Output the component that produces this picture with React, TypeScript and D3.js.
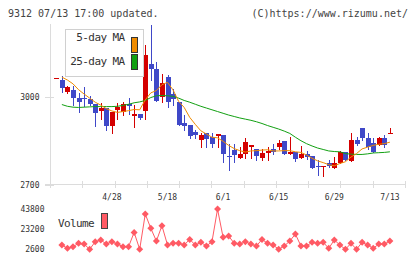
import * as d3 from "d3";

// trading days, 2022
const dates = [
  "4/14", "4/15", "4/18", "4/19", "4/20", "4/21", "4/22", "4/25", "4/26", "4/27",
  "4/28", "5/2", "5/6", "5/9", "5/10", "5/11", "5/12", "5/13", "5/16", "5/17",
  "5/18", "5/19", "5/20", "5/23", "5/24", "5/25", "5/26", "5/27", "5/30", "5/31",
  "6/1", "6/2", "6/3", "6/6", "6/7", "6/8", "6/9", "6/10", "6/13", "6/14",
  "6/15", "6/16", "6/17", "6/20", "6/21", "6/22", "6/23", "6/24", "6/27", "6/28",
  "6/29", "6/30", "7/1", "7/4", "7/5", "7/6", "7/7", "7/8", "7/11", "7/12",
  "7/13",
];

const opens = [
  3066, 3057, 3017, 3023, 2998, 2998, 2992, 2977, 2952, 2962,
  2901, 2954, 2948, 2977, 2935, 2941, 2952, 3112, 3097, 3000,
  3068, 3009, 2983, 2911, 2903, 2879, 2854, 2875, 2863, 2866,
  2869, 2798, 2817, 2791, 2806, 2828, 2820, 2791, 2808, 2823,
  2829, 2848, 2806, 2812, 2791, 2806, 2797, 2762, 2763, 2772,
  2757, 2774, 2812, 2780, 2852, 2892, 2861, 2842, 2837, 2861,
  2875,
];
const highs = [
  3066, 3071, 3039, 3037, 3014, 3034, 3002, 2977, 2979, 2962,
  2949, 2979, 2983, 2998, 2972, 2941, 3177, 3246, 3120, 3080,
  3074, 3026, 2983, 2937, 2903, 2886, 2877, 2877, 2875, 2872,
  2869, 2840, 2840, 2829, 2858, 2835, 2823, 2820, 2829, 2840,
  2852, 2848, 2863, 2812, 2831, 2815, 2797, 2783, 2763, 2783,
  2795, 2815, 2812, 2875, 2863, 2892, 2878, 2858, 2863, 2869,
  2894,
];
const lows = [
  3066, 3017, 3014, 2972, 2949, 2968, 2972, 2901, 2924, 2888,
  2877, 2926, 2937, 2943, 2897, 2924, 2926, 3057, 2986, 2983,
  2966, 2974, 2905, 2886, 2861, 2861, 2829, 2829, 2829, 2829,
  2777, 2751, 2777, 2791, 2791, 2791, 2783, 2783, 2783, 2806,
  2823, 2803, 2804, 2781, 2791, 2788, 2757, 2732, 2729, 2760,
  2757, 2772, 2783, 2780, 2835, 2852, 2823, 2810, 2835, 2829,
  2875,
];
const closes = [
  3066, 3031, 3033, 2997, 2983, 2992, 2977, 2945, 2962, 2901,
  2949, 2964, 2977, 2970, 2941, 2929, 3143, 3096, 2986, 3048,
  2983, 2992, 2905, 2900, 2866, 2869, 2869, 2856, 2838, 2872,
  2806, 2796, 2800, 2804, 2844, 2835, 2798, 2808, 2815, 2812,
  2842, 2806, 2812, 2787, 2806, 2795, 2757, 2761, 2763, 2764,
  2772, 2812, 2783, 2852, 2840, 2861, 2829, 2812, 2861, 2837,
  2875,
];

const ma5 = [
  null, 3068, 3058, 3045, 3025, 3010, 2996, 2982, 2972, 2960,
  2952, 2947, 2950, 2953, 2957, 2956, 2990, 3014, 3022, 3042,
  3050, 3024, 2985, 2964, 2930, 2906, 2884, 2873, 2862, 2860,
  2848, 2834, 2823, 2816, 2811, 2815, 2816, 2818, 2819, 2815,
  2815, 2816, 2816, 2812, 2810, 2801, 2790, 2781, 2775, 2768,
  2764, 2772, 2778, 2794, 2806, 2822, 2828, 2834, 2838, 2840,
  2845,
];
const ma25 = [
  null, 2974, 2968, 2965, 2964, 2965, 2966, 2967, 2967, 2967,
  2967, 2968, 2971, 2975, 2980, 2983, 2988, 2998, 3004, 3005,
  3004, 3002, 2996, 2988, 2982, 2975, 2968, 2962, 2956, 2950,
  2944, 2938, 2933, 2928, 2924, 2920, 2915, 2909, 2902, 2896,
  2890, 2883, 2875, 2862, 2850, 2840, 2832, 2825, 2820, 2815,
  2813, 2812, 2806, 2804, 2803, 2803, 2805, 2808, 2809, 2810,
  2812,
];

// volume shown from 4/15 on
const volumes = [
  6700, 3300, 5000, 8400, 7700, 2300, 10100, 11900, 7700, 10100,
  7700, 5000, 5000, 19700, 2300, 38600, 23900, 10800, 26600, 6700,
  8400, 8400, 6700, 12500, 6700, 9500, 5700, 10100, 43700, 14600,
  16000, 8400, 7700, 10100, 7700, 5700, 12500, 8400, 6700, 2300,
  5700, 10800, 18000, 5700, 5700, 9500, 8400, 9500, 3300, 11900,
  6700, 2300, 8400, 2300, 9500, 6700, 3300, 7700, 7700, 10800,
];

const priceTicks = [2700, 3000];
const volumeTicks = [2600, 23200, 43800];
const dateTicks = ["4/28", "5/18", "6/1", "6/15", "6/29", "7/13"];

const UP = "#d40000";
const DOWN = "#3f48c8";
const MA5_COLOR = "#f08c00";
const MA25_COLOR = "#12a012";
const VOL_COLOR = "#ff5a64";
const GRID = "#dcdcdc";
const FONT = "'DejaVu Sans Mono', monospace";

export default function App() {
  const x = d3.scalePoint<string>().domain(dates).range([56.3, 389.9]);
  const y = d3.scaleLinear().domain([2700, 3250]).range([184.5, 24]);
  const yv = d3.scaleLinear().domain([2600, 43800]).range([249, 209]);
  const grid = d3.scaleLinear().domain([0, 11]).range([50.5, 405.5]);

  const cx = (i: number) => Math.round(x(dates[i]) as number);

  const maLine = d3
    .line<number | null>()
    .defined((d) => d != null)
    .x((_, i) => x(dates[i]) as number)
    .y((d) => y(d as number));

  const volDates = dates.slice(1);
  const volLine = d3
    .line<number>()
    .x((_, i) => x(volDates[i]) as number)
    .y((d) => yv(d));

  const diamond = (px: number, py: number) =>
    `M${px},${py - 3.5}L${px + 3.5},${py}L${px},${py + 3.5}L${px - 3.5},${py}Z`;

  return (
    <svg
      width={420}
      height={259}
      style={{ position: "absolute", left: 0, top: 0, background: "#fff" }}
      fontFamily={FONT}
    >
      {/* header */}
      <text x={8} y={16.5} fontSize={10} fill="#444">
        9312 07/13 17:00 updated.
      </text>
      <text x={408} y={16.5} fontSize={10} fill="#444" textAnchor="end">
        (C)https://www.rizumu.net/
      </text>

      {/* axes */}
      <g stroke={GRID} shapeRendering="crispEdges">
        <line x1={50.5} x2={50.5} y1={24} y2={187.5} />
        <line x1={45} x2={405.5} y1={184.5} y2={184.5} />
        {d3.range(12).map((k) => (
          <line key={k} x1={grid(k)} x2={grid(k)} y1={181} y2={188} />
        ))}
        {priceTicks.map((t) => (
          <line key={t} x1={45} x2={54} y1={Math.round(y(t)) + 0.5} y2={Math.round(y(t)) + 0.5} />
        ))}
      </g>
      {priceTicks.map((t) => (
        <text key={t} x={39.5} y={y(t) + 3} fontSize={8} fill="#333" textAnchor="end">
          {t}
        </text>
      ))}
      {dateTicks.map((d) => (
        <text key={d} x={x(d)} y={200} fontSize={8} fill="#333" textAnchor="middle">
          {d}
        </text>
      ))}

      {/* candles */}
      <g shapeRendering="crispEdges">
        {dates.map((d, i) => {
          const up = closes[i] >= opens[i];
          const c = up ? UP : DOWN;
          const top = Math.round(y(Math.max(opens[i], closes[i])));
          const bot = Math.round(y(Math.min(opens[i], closes[i])));
          const px = cx(i);
          return (
            <g key={d}>
              <line
                x1={px + 0.5}
                x2={px + 0.5}
                y1={Math.round(y(highs[i]))}
                y2={Math.round(y(lows[i])) + 1}
                stroke={c}
              />
              <rect x={px - 2} y={top} width={5} height={Math.max(1, bot - top)} fill={c} />
            </g>
          );
        })}
      </g>

      {/* moving averages */}
      <path d={maLine(ma25) ?? ""} fill="none" stroke={MA25_COLOR} strokeWidth={1} />
      <path d={maLine(ma5) ?? ""} fill="none" stroke={MA5_COLOR} strokeWidth={1} />

      {/* legend */}
      <rect x={65.5} y={29.5} width={78} height={47} fill="#fff" stroke="#d0d0d0" />
      <text x={124.5} y={41} fontSize={11} letterSpacing={-0.6} fill="#333" textAnchor="end">
        5-day MA
      </text>
      <text x={124.5} y={64.5} fontSize={11} letterSpacing={-0.6} fill="#333" textAnchor="end">
        25-day MA
      </text>
      <rect x={131.5} y={37.5} width={6} height={15} fill={MA5_COLOR} stroke="#333" />
      <rect x={131.5} y={54.5} width={6} height={15} fill={MA25_COLOR} stroke="#333" />

      {/* volume */}
      {volumeTicks.map((t) => (
        <text key={t} x={44.5} y={yv(t) + 3} fontSize={8} fill="#333" textAnchor="end">
          {t}
        </text>
      ))}
      <text x={58} y={226.5} fontSize={11} letterSpacing={-0.6} fill="#333">
        Volume
      </text>
      <rect x={101.5} y={213.5} width={6} height={15} fill={VOL_COLOR} stroke="#444" />
      <path d={volLine(volumes) ?? ""} fill="none" stroke={VOL_COLOR} strokeWidth={1} />
      {volumes.map((v, i) => (
        <path key={i} d={diamond(x(volDates[i]) as number, yv(v))} fill={VOL_COLOR} />
      ))}
    </svg>
  );
}
